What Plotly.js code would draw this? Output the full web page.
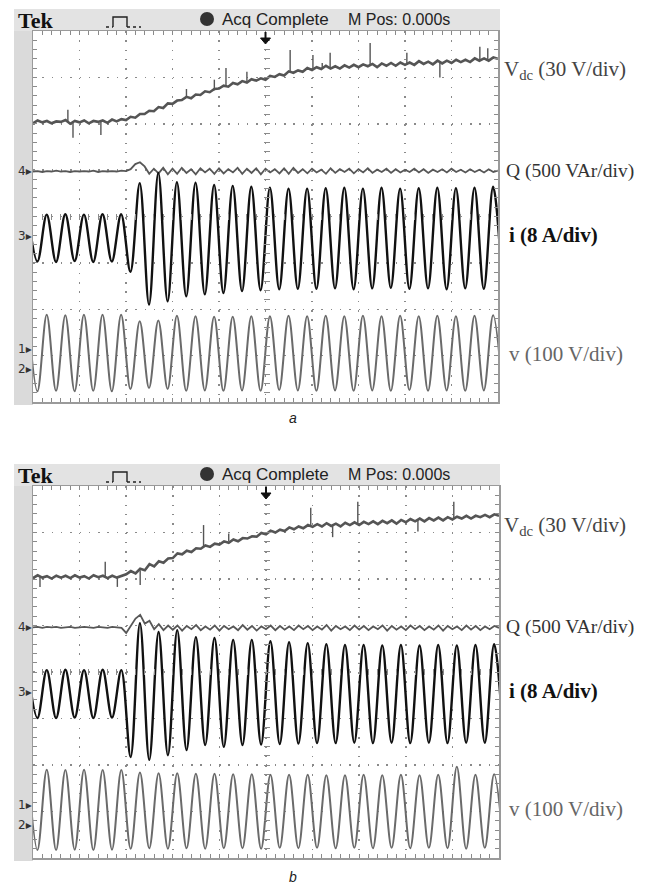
<!DOCTYPE html>
<html><head><meta charset="utf-8">
<script src="https://cdn.plot.ly/plotly-3.0.1.min.js"></script>
<style>html,body{margin:0;padding:0;background:#fff}#chart{width:648px;height:884px}</style>
</head><body><div id="chart"></div>
<script>
// time base (divisions) for slow signals
const tGrid = [0,0.1,0.2,0.3,0.4,0.5,0.6,0.7,0.8,0.9,1,1.1,1.2,1.3,1.4,1.5,1.6,1.7,1.8,1.9,2,2.1,2.2,2.3,2.4,2.5,2.6,2.7,2.8,2.9,3,3.1,3.2,3.3,3.4,3.5,3.6,3.7,3.8,3.9,4,4.1,4.2,4.3,4.4,4.5,4.6,4.7,4.8,4.9,5,5.1,5.2,5.3,5.4,5.5,5.6,5.7,5.8,5.9,6,6.1,6.2,6.3,6.4,6.5,6.6,6.7,6.8,6.9,7,7.1,7.2,7.3,7.4,7.5,7.6,7.7,7.8,7.9,8,8.1,8.2,8.3,8.4,8.5,8.6,8.7,8.8,8.9,9,9.1,9.2,9.3,9.4,9.5,9.6,9.7,9.8,9.9,10];
// times of the peaks / troughs of the AC waveforms (divisions)
const tHalf = [-0.105,0.095,0.295,0.495,0.695,0.895,1.095,1.295,1.495,1.695,1.895,2.095,2.295,2.495,2.695,2.895,3.095,3.295,3.495,3.695,3.895,4.095,4.295,4.495,4.695,4.895,5.095,5.295,5.495,5.695,5.895,6.095,6.295,6.495,6.695,6.895,7.095,7.295,7.495,7.695,7.895,8.095,8.295,8.495,8.695,8.895,9.095,9.295,9.495,9.695,9.895,10.095];

// ---- panel a ----
const vdcA = [2.01,2.07,2.03,2.06,2.01,2.05,2.04,2.08,2.00,2.06,
2.03,2.07,2.01,2.06,2.04,2.07,2.02,2.09,2.05,2.10,
2.08,2.15,2.13,2.21,2.21,2.28,2.27,2.36,2.34,2.44,
2.43,2.50,2.51,2.58,2.55,2.63,2.62,2.70,2.68,2.75,
2.76,2.82,2.80,2.88,2.85,2.92,2.89,2.96,2.93,2.98,
2.95,3.03,3.01,3.07,3.04,3.13,3.10,3.15,3.12,3.20,
3.16,3.22,3.18,3.25,3.19,3.24,3.19,3.26,3.21,3.27,
3.22,3.28,3.24,3.29,3.22,3.30,3.25,3.31,3.25,3.32,
3.27,3.32,3.27,3.35,3.29,3.34,3.28,3.36,3.30,3.36,
3.31,3.38,3.33,3.38,3.33,3.41,3.36,3.41,3.36,3.43,3.40];
const spkA_t    = [0.75,0.86,1.46,3.30,3.90,4.15,4.60,5.53,6.02,6.22,6.39,7.25,8.04,8.75,9.61,9.78];
const spkA_from = [2.05,2.04,2.05,2.56,2.72,2.82,2.92,3.10,3.19,3.20,3.22,3.26,3.30,3.32,3.38,3.39];
const spkA_to   = [2.30,1.70,1.76,2.75,2.95,3.20,3.12,3.59,3.48,3.31,3.53,3.74,3.53,3.00,3.66,3.63];
const qA = [0.97,0.98,0.96,0.98,0.97,0.99,0.97,0.98,0.96,0.98,0.97,0.98,0.97,0.99,0.96,0.98,0.97,0.98,0.97,0.99,0.98,
1.02,1.13,1.17,1.08,0.92,1.03,0.93,1.05,0.91,
1.03,0.92,1.05,0.94,1.02,0.91,1.04,0.95,1.03,0.92,
1.04,0.93,1.02,0.95,1.05,0.92,1.03,0.94,1.04,0.91,
1.03,0.95,1.02,0.93,1.04,0.92,1.05,0.94,1.02,0.93,
1.03,0.95,1.01,0.92,1.04,0.94,1.02,0.96,1.03,0.93,
1.02,0.95,1.04,0.94,1.01,0.96,1.03,0.94,1.02,0.95,
1.01,0.96,1.03,0.95,1.02,0.94,1.01,0.96,1.02,0.95,
1.03,0.96,1.01,0.95,1.02,0.96,1.01,0.95,1.02,0.96,0.99];
const iA = [0.04,-0.97,0.04,-0.98,0.05,-0.96,0.04,-0.98,0.05,-0.97,0.05,-1.19,0.72,-1.90,0.94,-1.83,0.74,-1.72,0.73,-1.68,0.68,-1.65,0.66,-1.61,0.64,-1.59,0.62,-1.57,0.60,-1.56,0.60,-1.56,0.61,-1.55,0.62,-1.57,0.60,-1.55,0.62,-1.54,0.60,-1.56,0.61,-1.55,0.62,-1.57,0.61,-1.55,0.62,-1.56,0.64,-1.56];
const vA = [-2.13,-3.77,-2.12,-3.76,-2.13,-3.77,-2.12,-3.76,-2.12,-3.77,-2.12,-3.72,-2.26,-3.70,-2.24,-3.72,-2.14,-3.76,-2.15,-3.75,-2.16,-3.76,-2.16,-3.75,-2.15,-3.76,-2.15,-3.74,-2.14,-3.75,-2.15,-3.76,-2.14,-3.75,-2.15,-3.76,-2.14,-3.75,-2.15,-3.76,-2.14,-3.74,-2.15,-3.76,-2.14,-3.75,-2.15,-3.76,-2.14,-3.75,-2.13,-3.76];

// ---- panel b ----
const vdcB = [2.02,2.08,2.03,2.06,2.01,2.07,2.03,2.07,2.02,2.08,
2.03,2.06,2.01,2.08,2.04,2.07,2.02,2.07,2.03,2.06,
2.10,2.17,2.12,2.22,2.19,2.32,2.27,2.38,2.35,2.44,
2.45,2.55,2.53,2.61,2.58,2.66,2.65,2.72,2.69,2.76,
2.74,2.81,2.78,2.85,2.81,2.88,2.87,2.92,2.91,2.99,
2.96,3.04,3.00,3.06,3.03,3.11,3.07,3.13,3.09,3.16,
3.12,3.18,3.13,3.20,3.14,3.19,3.13,3.21,3.16,3.22,
3.16,3.23,3.18,3.24,3.18,3.25,3.20,3.26,3.19,3.27,
3.22,3.29,3.24,3.30,3.24,3.31,3.26,3.32,3.26,3.33,
3.28,3.34,3.30,3.36,3.30,3.36,3.33,3.38,3.33,3.39,3.36];
const spkB_t    = [0.15,1.55,1.81,2.30,3.66,4.20,5.96,6.43,6.97,8.26,9.03];
const spkB_from = [2.05,2.05,2.05,2.19,2.69,2.81,3.14,3.17,3.19,3.27,3.31];
const spkB_to   = [1.83,2.37,1.83,1.87,3.16,2.98,3.53,2.90,3.66,3.02,3.66];
const qB = [0.96,0.97,0.95,0.97,0.96,0.97,0.95,0.96,0.97,0.95,0.96,0.97,0.96,0.95,0.97,0.96,0.95,0.97,0.96,0.95,
0.84,1.00,1.15,1.23,1.04,1.10,0.92,1.03,0.90,1.00,
0.91,1.00,0.89,0.99,0.92,1.01,0.90,0.98,0.91,1.00,
0.89,0.99,0.92,0.98,0.90,1.01,0.91,0.99,0.89,0.98,
0.92,1.00,0.90,0.99,0.91,0.98,0.90,1.00,0.92,0.99,
0.90,0.98,0.91,1.01,0.89,0.99,0.92,0.98,0.90,1.00,
0.91,0.99,0.90,0.98,0.92,1.00,0.89,0.99,0.91,0.98,
0.90,1.00,0.92,0.99,0.90,0.98,0.91,1.00,0.89,0.99,
0.92,0.98,0.90,1.00,0.91,0.99,0.90,0.98,0.92,0.99,0.95];
const iB = [0.04,-0.99,0.04,-0.99,0.05,-0.98,0.04,-0.99,0.05,-0.98,0.04,-1.83,1.05,-1.89,0.86,-1.79,0.90,-1.68,0.75,-1.57,0.73,-1.61,0.69,-1.57,0.69,-1.56,0.66,-1.55,0.64,-1.54,0.62,-1.53,0.60,-1.53,0.58,-1.52,0.58,-1.53,0.57,-1.52,0.58,-1.53,0.57,-1.52,0.58,-1.53,0.57,-1.52,0.58,-1.52,0.60,-1.52];
const vB = [-2.11,-3.83,-2.10,-3.83,-2.11,-3.82,-2.10,-3.83,-2.11,-3.82,-2.11,-3.80,-2.16,-3.79,-2.18,-3.80,-2.18,-3.79,-2.19,-3.80,-2.19,-3.79,-2.20,-3.79,-2.20,-3.80,-2.21,-3.78,-2.21,-3.79,-2.21,-3.78,-2.22,-3.79,-2.22,-3.78,-2.21,-3.79,-2.22,-3.78,-2.21,-3.79,-2.22,-3.78,-2.21,-3.79,-2.04,-3.80,-2.21,-3.78,-2.20,-3.78];

const labelsText = {vdc:'V<sub>dc</sub> (30 V/div)', q:'Q (500 VAr/div)', i:'<b>i (8 A/div)</b>', v:'v (100 V/div)'};
const headerText = ['Acq Complete', 'M Pos: 0.000s'];
const captions = ['a', 'b'];

// ---------------- drawing ----------------
const W = 648, H = 884;
const PX = x => x / W, PY = y => 1 - y / H;
const C_VDC = '#555555', C_Q = '#575757', C_I = '#111111', C_V = '#6a6a6a';

function line(x, y, xa, ya, color, width, shape) {
  return {x, y, xaxis: xa, yaxis: ya, type: 'scatter', mode: 'lines',
    line: {color, width, shape: shape || 'linear', smoothing: 1}, hoverinfo: 'skip'};
}
function spikes(t, a, b, xa, ya) {
  const x = [], y = [];
  t.forEach((tt, k) => { x.push(tt, tt, null); y.push(a[k], b[k], null); });
  return line(x, y, xa, ya, C_VDC, 1.4);
}
function dummy(xa, ya) {
  return {x: [5], y: [0], xaxis: xa, yaxis: ya, type: 'scatter', mode: 'markers', marker: {opacity: 0}, hoverinfo: 'skip'};
}

const data = [
  line(tGrid, vdcA, 'x', 'y', C_VDC, 2.6), spikes(spkA_t, spkA_from, spkA_to, 'x', 'y'),
  line(tGrid, qA, 'x', 'y', C_Q, 1.8),
  line(tHalf, vA, 'x', 'y', C_V, 2, 'spline'),
  line(tHalf, iA, 'x', 'y', C_I, 2.4, 'spline'),
  line(tGrid, vdcB, 'x2', 'y2', C_VDC, 2.6), spikes(spkB_t, spkB_from, spkB_to, 'x2', 'y2'),
  line(tGrid, qB, 'x2', 'y2', C_Q, 1.8),
  line(tHalf, vB, 'x2', 'y2', C_V, 2, 'spline'),
  line(tHalf, iB, 'x2', 'y2', C_I, 2.4, 'spline'),
  dummy('x3', 'y3'), dummy('x4', 'y4')
];

const GRID = '#8a8a8a';
function baseAx(domain, anchor, range) {
  return {domain, anchor, range, fixedrange: true, showgrid: true, gridcolor: GRID, gridwidth: 1.5,
    griddash: '1.5px,7.8px', zeroline: false, showline: true, linecolor: '#9a9a9a', linewidth: 1.5,
    mirror: 'allticks', ticks: 'inside', ticklen: 4, tickcolor: GRID, tickwidth: 1, dtick: 1, tick0: 0,
    showticklabels: false,
    minor: {dtick: 0.2, tick0: 0, ticks: 'inside', ticklen: 4, tickcolor: GRID, tickwidth: 1, showgrid: false}};
}
function centerAx(over, pos, range) {
  return {overlaying: over, anchor: 'free', position: pos, range, fixedrange: true, showgrid: false,
    zeroline: false, showline: false, ticks: 'inside', ticklen: 6, tickcolor: GRID, tickwidth: 1,
    dtick: 0.2, tick0: 0, showticklabels: false};
}

const A = {top: 31, bot: 402, right: 498, dy: 0, cy: 216.5};
const B = {top: 486, bot: 858, right: 499, dy: 455, cy: 672};

const shapes = [], annotations = [];
function panel(P, cap) {
  const dy = P.dy;
  shapes.push({type: 'rect', xref: 'paper', yref: 'paper', x0: PX(14), x1: PX(500), y0: PY(9 + dy), y1: PY(P.top),
    fillcolor: '#e3e3e3', line: {width: 0}, layer: 'below'});
  shapes.push({type: 'rect', xref: 'paper', yref: 'paper', x0: PX(14), x1: PX(33), y0: PY(P.top), y1: PY(P.bot + 3),
    fillcolor: '#dadada', line: {width: 0}, layer: 'below'});
  shapes.push({type: 'circle', xref: 'paper', yref: 'paper', x0: PX(200), x1: PX(214), y0: PY(12 + dy), y1: PY(26 + dy),
    fillcolor: '#333', line: {width: 0}});
  shapes.push({type: 'path', xref: 'paper', yref: 'paper',
    path: `M ${PX(113)} ${PY(27 + dy)} L ${PX(113)} ${PY(17 + dy)} L ${PX(127)} ${PY(17 + dy)} L ${PX(127)} ${PY(27 + dy)}`,
    line: {color: '#222', width: 1.4}});
  shapes.push({type: 'line', xref: 'paper', yref: 'paper', x0: PX(106), x1: PX(113), y0: PY(27 + dy), y1: PY(27 + dy),
    line: {color: '#222', width: 1.4, dash: 'dot'}});
  shapes.push({type: 'line', xref: 'paper', yref: 'paper', x0: PX(127), x1: PX(141), y0: PY(27 + dy), y1: PY(27 + dy),
    line: {color: '#222', width: 1.4, dash: 'dot'}});
  const ax = (33 + P.right) / 2;
  shapes.push({type: 'line', xref: 'paper', yref: 'paper', x0: PX(ax), x1: PX(ax), y0: PY(P.top + 1), y1: PY(P.top + 7),
    line: {color: '#111', width: 2}});
  shapes.push({type: 'path', xref: 'paper', yref: 'paper',
    path: `M ${PX(ax - 5)} ${PY(P.top + 7)} L ${PX(ax + 5)} ${PY(P.top + 7)} L ${PX(ax)} ${PY(P.top + 13)} Z`,
    fillcolor: '#111', line: {color: '#111', width: 1}});

  const a = (x, y, text, font, xanchor) => annotations.push({xref: 'paper', yref: 'paper', x: PX(x), y: PY(y), text,
    showarrow: false, xanchor: xanchor || 'left', yanchor: 'middle', font});
  a(16, 20 + dy, '<b>Tek</b>', {family: 'Liberation Serif', size: 22, color: '#111'});
  a(220, 19 + dy, headerText[0], {family: 'Liberation Sans Narrow, Liberation Sans, Arial', size: 17, color: '#222'});
  a(346, 19 + dy, headerText[1], {family: 'Liberation Sans Narrow, Liberation Sans, Arial', size: 16, color: '#222'});
  const mk = {family: 'DejaVu Sans', size: 12, color: '#333'};
  a(34, P.cy - 45.5, '4▸', mk, 'right');
  a(34, P.cy + 20, '3▸', mk, 'right');
  a(34, P.cy + 132.5, '1▸', mk, 'right');
  a(34, P.cy + 152.5, '2▸', mk, 'right');
  const sf = (c, s) => ({family: 'Liberation Serif', size: s, color: c});
  a(502, P.cy - 146, labelsText.vdc, sf('#444', 21));
  a(504, P.cy - 45, labelsText.q, sf('#333', 19.5));
  a(507, P.cy + 19, labelsText.i, sf('#111', 21));
  a(507, P.cy + 137, labelsText.v, sf('#666', 21));
  a(293, P.bot + 16 + (dy ? 3 : 0), '<i>' + cap + '</i>', {family: 'Liberation Sans', size: 14, color: '#222'}, 'center');
}
panel(A, captions[0]);
panel(B, captions[1]);

const layout = {
  width: W, height: H, margin: {l: 0, r: 0, t: 0, b: 0}, showlegend: false,
  paper_bgcolor: '#ffffff', plot_bgcolor: '#ffffff',
  xaxis: baseAx([PX(33), PX(A.right)], 'y', [0, 10]),
  yaxis: baseAx([PY(A.bot), PY(A.top)], 'x', [-4, 4]),
  xaxis2: baseAx([PX(33), PX(B.right)], 'y2', [0, 10]),
  yaxis2: baseAx([PY(B.bot), PY(B.top)], 'x2', [-4, 4]),
  xaxis3: centerAx('x', PY(A.cy + 3), [0, 10]),
  yaxis3: centerAx('y', PX((33 + A.right) / 2 - 3), [-4, 4]),
  xaxis4: centerAx('x2', PY(B.cy + 3), [0, 10]),
  yaxis4: centerAx('y2', PX((33 + B.right) / 2 - 3), [-4, 4]),
  shapes, annotations
};
Plotly.newPlot('chart', data, layout, {staticPlot: true, displayModeBar: false});
</script>
</body></html>
